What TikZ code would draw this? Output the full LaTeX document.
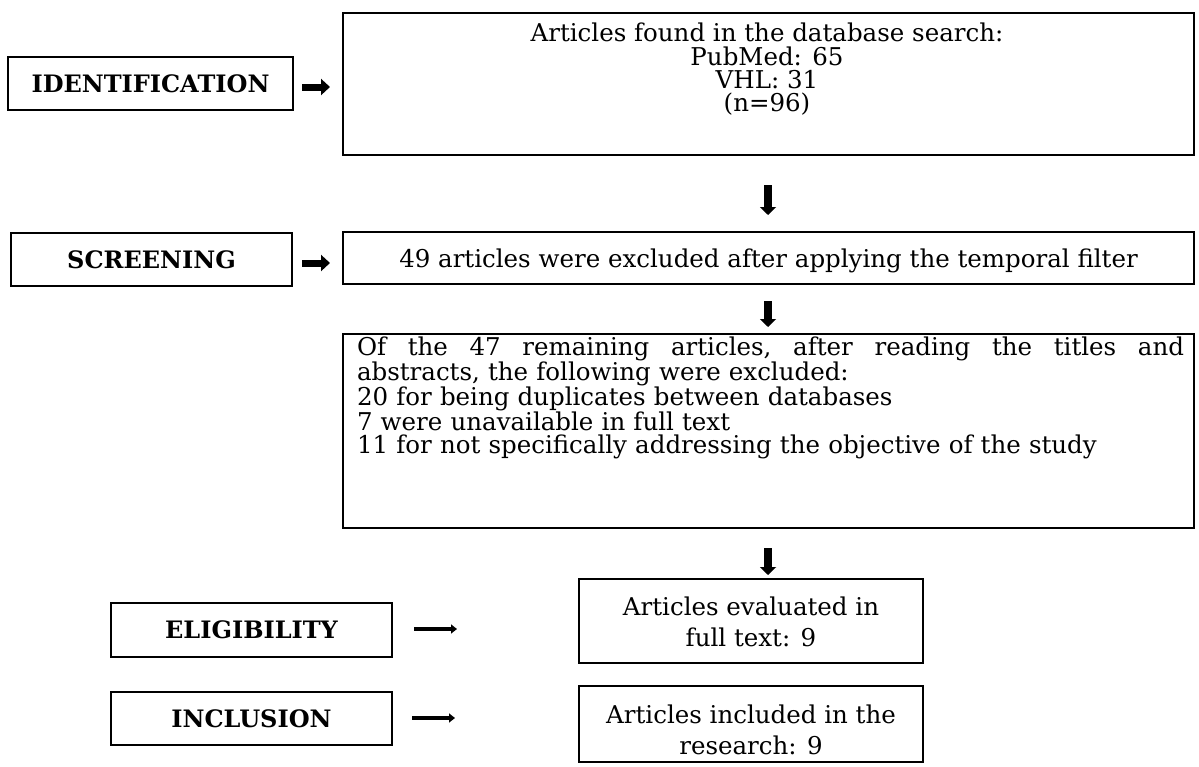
\documentclass[tikz,border=0pt]{standalone}
\usepackage{fontspec}
\setmainfont{DejaVu Serif}
\usetikzlibrary{arrows.meta}
\tikzset{
  lab/.style={draw, line width=1.5, inner sep=0, font=\fontsize{24}{28}\selectfont\bfseries},
  frame/.style={draw, line width=1.5, inner sep=0},
  txt/.style={inner sep=0, align=center, font=\fontsize{24.5}{23.3}\selectfont},
  txtwide/.style={inner sep=0, align=center, font=\fontsize{24.5}{30.5}\selectfont},
  fatarrow/.style={line width=7, -{Triangle[length=9pt, width=16pt]}},
  downarrow/.style={line width=8, -{Triangle[length=8pt, width=16pt]}},
  thinarrow/.style={line width=4, -{Triangle[length=6pt, width=9pt]}}
}
\begin{document}
\begin{tikzpicture}[x=1pt, y=-1pt]
\useasboundingbox[fill=white] (0,0) rectangle (1199,766);

% stage labels
\node[lab, minimum width=285, minimum height=53] (idbox) at (150.5,83.5) {IDENTIFICATION};
\node[lab, minimum width=281, minimum height=53] (scrbox) at (151.5,259.5) {SCREENING};
\node[lab, minimum width=281, minimum height=54] (eligbox) at (251.5,630) {ELIGIBILITY};
\node[lab, minimum width=281, minimum height=53] (inclbox) at (251.5,718.5) {INCLUSION};

% content boxes
\node[frame, minimum width=851, minimum height=142] (searchbox) at (768.5,84) {};
\node[txt] (searchtxt) at (767,69.5) {Articles found in the database search:\\PubMed: 65\\VHL: 31\\(n=96)};

\node[frame, minimum width=851, minimum height=52] (filterbox) at (768.5,258) {};
\node[txt] (filtertxt) at (768.5,261) {49 articles were excluded after applying the temporal filter};

\node[frame, minimum width=851, minimum height=194] (bigbox) at (768.5,431) {};
\node[txt, text width=827pt, align=left] (bigtxt) at (770.5,398) {\hbox to 827pt{Of\hfill the\hfill 47\hfill remaining\hfill articles,\hfill after\hfill reading\hfill the\hfill titles\hfill and}\\
abstracts, the following were excluded:\\
20 for being duplicates between databases\\
7 were unavailable in full text\\
11 for not specifically addressing the objective of the study};

\node[frame, minimum width=344, minimum height=84] (evalbox) at (751,621) {};
\node[txtwide] (evaltxt) at (751,622) {Articles evaluated in\\full text: 9};

\node[frame, minimum width=344, minimum height=76] (resbox) at (751,724) {};
\node[txtwide] (restxt) at (751,730) {Articles included in the\\research: 9};

% arrows
\coordinate (a1s) at (768,185); \coordinate (a1e) at (768,215);
\coordinate (a2s) at (768,301); \coordinate (a2e) at (768,327);
\coordinate (a3s) at (768,548); \coordinate (a3e) at (768,575);
\draw[downarrow] (a1s) -- (a1e);
\draw[downarrow] (a2s) -- (a2e);
\draw[downarrow] (a3s) -- (a3e);

\coordinate (h1s) at (302,87); \coordinate (h1e) at (330,87);
\coordinate (h2s) at (302,263); \coordinate (h2e) at (330,263);
\draw[fatarrow] (h1s) -- (h1e);
\draw[fatarrow] (h2s) -- (h2e);

\coordinate (h3s) at (414,629); \coordinate (h3e) at (457,629);
\coordinate (h4s) at (412,718); \coordinate (h4e) at (455,718);
\draw[thinarrow] (h3s) -- (h3e);
\draw[thinarrow] (h4s) -- (h4e);
\end{tikzpicture}
\end{document}
